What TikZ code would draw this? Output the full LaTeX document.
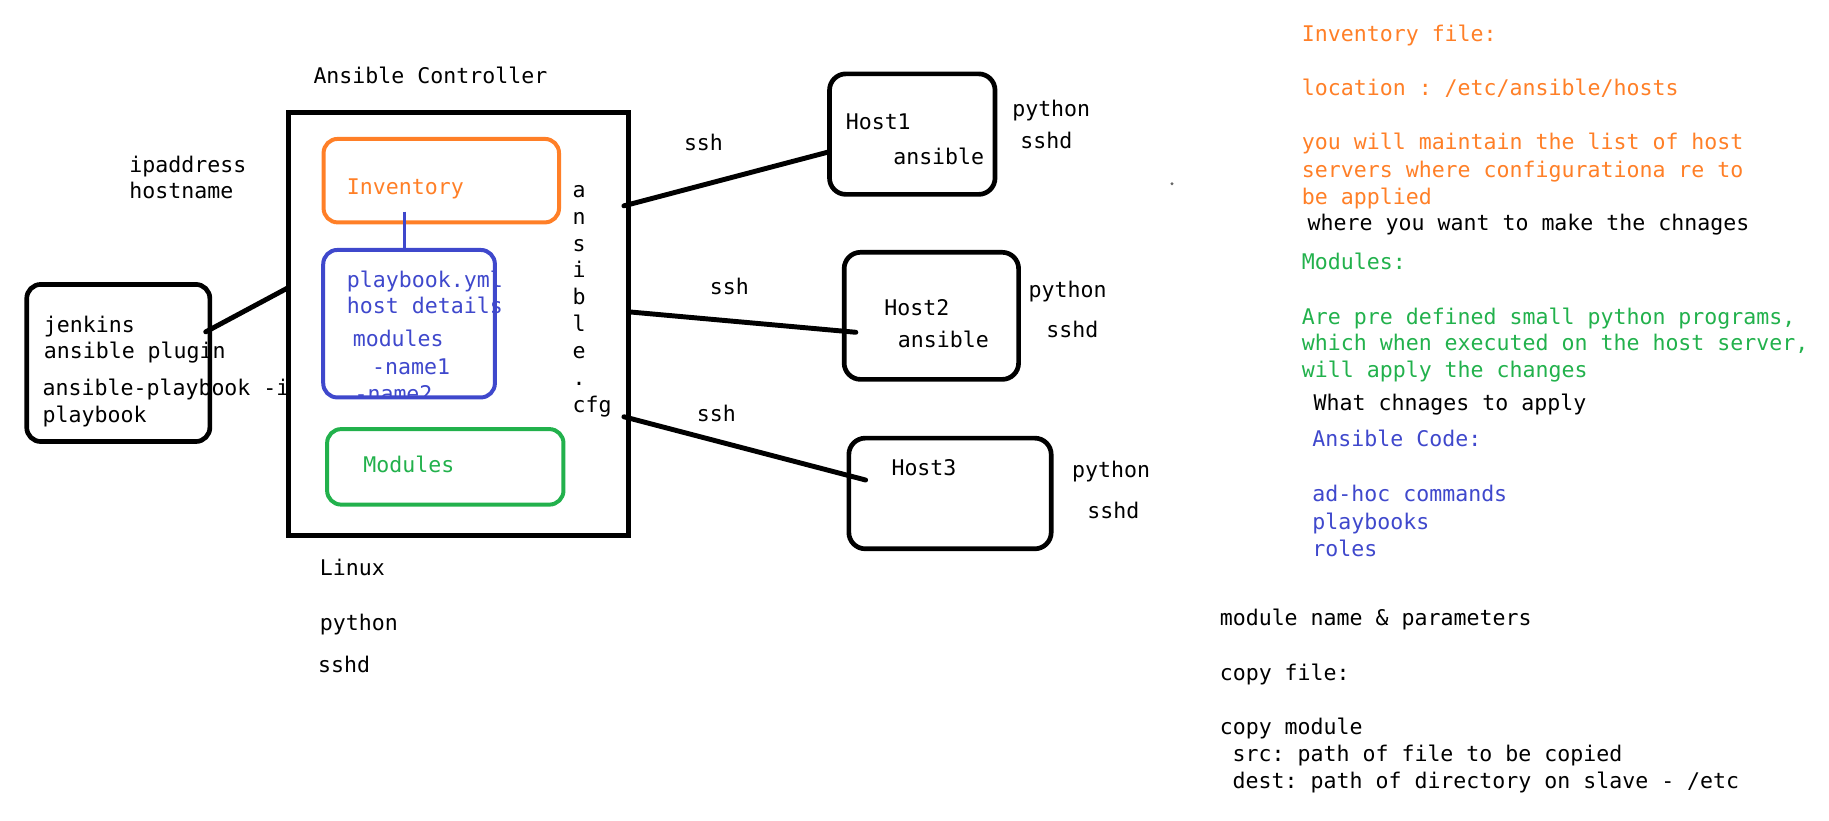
\documentclass[tikz,border=0pt]{standalone}
\usepackage{fontspec}
\setmonofont{DejaVu Sans Mono}
\usetikzlibrary{positioning}

\definecolor{paintorange}{HTML}{FF7F27}
\definecolor{paintgreen}{HTML}{22B14C}
\definecolor{paintblue}{HTML}{3F48CC}

\tikzset{
  txt/.style={anchor=base west, inner sep=0pt, yshift=-3.2pt, font=\fontsize{9.2}{11.5}\selectfont\ttfamily},
  box/.style={draw, anchor=north west, inner sep=0pt, outer sep=0pt, line width=2pt, rounded corners=7pt},
  cbox/.style={box, line width=1.7pt, rounded corners=6pt},
  wire/.style={line width=2.1pt, line cap=round},
}

\begin{document}
\begin{tikzpicture}[x=0.5pt,y=-0.5pt]

\useasboundingbox (0,0) rectangle (1560,700);

\node[txt] (ipaddr) at (110,140.4) {ipaddress};
\node[txt] (hostnm) at (110,162.6) {hostname};

\node[txt] (jenk1) at (37,277) {jenkins};
\node[txt] (jenk2) at (37,299) {ansible plugin};
\node[txt] (jenk3) at (36,330.8) {ansible-playbook -i};
\node[txt] (jenk4) at (36,353.7) {playbook};

\node[txt] (ctrltitle) at (267,65.2) {Ansible Controller};

\node[txt, paintorange] (invtxt) at (295.5,159.3) {Inventory};

\begin{scope}
\clip (250,200) rectangle (460,339);
\node[txt, paintblue] (play1) at (295.5,238.4) {playbook.yml};
\node[txt, paintblue] (play2) at (295.5,261.2) {host details};
\node[txt, paintblue] (play3) at (300.5,289.3) {modules};
\node[txt, paintblue] (play4) at (306,312.9) {\ -name1};
\node[txt, paintblue] (play5) at (302,335.8) {-name2};
\end{scope}

\node[txt, paintgreen] (modtxt) at (309.5,396.8) {Modules};

\foreach \c [count=\i] in {a,n,s,i,b,l,e,.,cfg}
  \node[txt] (cfg\i) at (488,162+22.9*\i-22.9) {\c};

\node[box, minimum width=78.1pt, minimum height=67pt, rounded corners=6pt] (jenkins) at (22.8,242.6) {};
\node[box, minimum width=145pt, minimum height=180.5pt, rounded corners=0pt, line width=2.2pt] (ctrl) at (246,95.6) {};
\node[cbox, paintorange, minimum width=100.4pt, minimum height=35.6pt] (inv) at (276,118.5) {};
\node[cbox, paintblue, minimum width=73.2pt, minimum height=62.9pt] (play) at (275.7,213.2) {};
\node[cbox, paintgreen, minimum width=100.8pt, minimum height=32.2pt] (mods) at (279,366) {};

\coordinate (invlink) at (345,180.5);
\draw[paintblue, line width=1.6pt] (invlink) -- (invlink |- play.north);

\node[txt] (linux) at (272.5,484.4) {Linux};
\node[txt] (ctrlpy) at (272.5,531.5) {python};
\node[txt] (ctrlsshd) at (271,567) {sshd};

\node[box, minimum width=70.6pt, minimum height=51.4pt] (host1) at (707.5,63) {};
\node[box, minimum width=74.4pt, minimum height=54.2pt] (host2) at (720,215.2) {};
\node[box, minimum width=86.3pt, minimum height=47.2pt] (host3) at (724,373.7) {};

\node[txt] (h1name) at (721,103.8) {Host1};
\node[txt] (h1ans) at (761.5,133.8) {ansible};
\node[txt] (h1py) at (863,93) {python};
\node[txt] (h1sshd) at (870,120.1) {sshd};

\node[txt] (h2name) at (754,262.3) {Host2};
\node[txt] (h2ans) at (765.5,290.3) {ansible};
\node[txt] (h2py) at (877,247.5) {python};
\node[txt] (h2sshd) at (892,281.8) {sshd};

\node[txt] (h3name) at (760,398.9) {Host3};
\node[txt] (h3py) at (914,400.9) {python};
\node[txt] (h3sshd) at (927,436) {sshd};

\node[txt] (ssh1) at (583,121.8) {ssh};
\node[txt] (ssh2) at (605,244.6) {ssh};
\node[txt] (ssh3) at (594,353.2) {ssh};

\draw[wire, shorten <=-2pt] (jenkins.20) -- (ctrl.168);
\draw[wire, shorten <=-2pt] (ctrl.35) -- (host1.192);
\draw[wire, shorten >=-5pt] (ctrl.4) -- (host2.190.7);
\draw[wire, shorten <=-2pt, shorten >=-7.4pt] (ctrl.331) -- (host3.170.9);

\fill[black!60] (999.6,156.7) circle (0.7pt);

\node[txt, paintorange] (invfile) at (1110,29) {Inventory file:};
\node[txt, paintorange] (invloc) at (1110,74.8) {location : /etc/ansible/hosts};
\node[txt, paintorange] (invdesc1) at (1110,121.2) {you will maintain the list of host};
\node[txt, paintorange] (invdesc2) at (1110,144.8) {servers where configurationa re to};
\node[txt, paintorange] (invdesc3) at (1110,167.7) {be applied};
\node[txt] (invwhere) at (1115,189.9) {where you want to make the chnages};

\node[txt, paintgreen] (modhead) at (1110,223.3) {Modules:};
\node[txt, paintgreen] (moddesc1) at (1110,270) {Are pre defined small python programs,};
\node[txt, paintgreen] (moddesc2) at (1110,292.3) {which when executed on the host server,};
\node[txt, paintgreen] (moddesc3) at (1110,315.8) {will apply the changes};
\node[txt] (modwhat) at (1120,343.7) {What chnages to apply};

\node[txt, paintblue] (codehead) at (1119,374.8) {Ansible Code:};
\node[txt, paintblue] (code1) at (1119,421.5) {ad-hoc commands};
\node[txt, paintblue] (code2) at (1119,445) {playbooks};
\node[txt, paintblue] (code3) at (1119,468) {roles};

\node[txt] (modparam) at (1040,527) {module name \& parameters};
\node[txt] (copyfile) at (1040,574) {copy file:};
\node[txt] (copymod) at (1040,620) {copy module};
\node[txt] (copysrc) at (1051,643) {src: path of file to be copied};
\node[txt] (copydest) at (1051,666) {dest: path of directory on slave - /etc};

\end{tikzpicture}
\end{document}
